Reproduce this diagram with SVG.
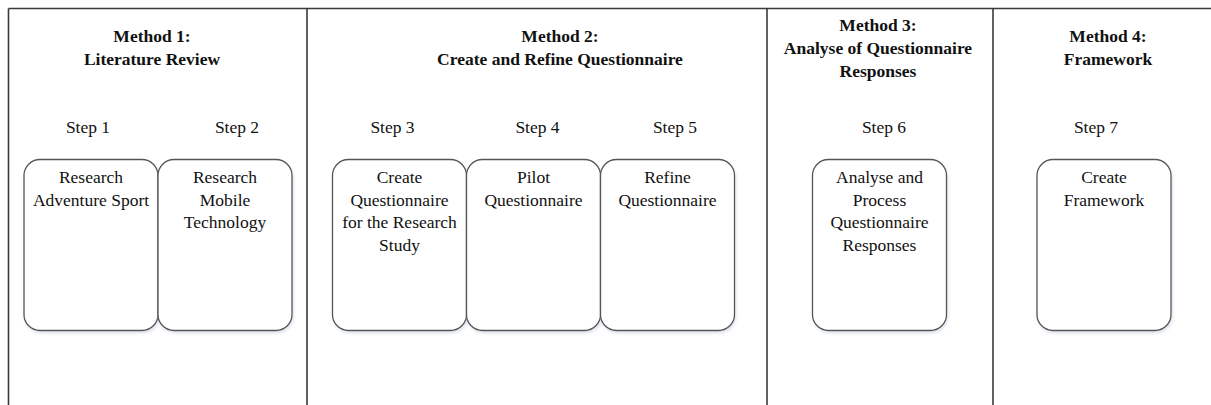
<svg xmlns="http://www.w3.org/2000/svg" width="1211" height="405" viewBox="0 0 1211 405">
<defs>
<filter id="sh" x="-10%" y="-10%" width="130%" height="130%">
<feDropShadow dx="1" dy="2" stdDeviation="1.5" flood-color="#9aa8c8" flood-opacity="0.35"/>
</filter>
<style>
.frame{fill:none;stroke:#3a3a3a;stroke-width:1.6}
.box{fill:#fff;stroke:#555;stroke-width:1.3;filter:url(#sh)}
text{font-family:"Liberation Serif","Times New Roman",serif;font-size:17.5px;fill:#111;text-anchor:middle}
.h{font-weight:bold}
</style>
</defs>
<rect width="1211" height="405" fill="#fff"/>
<g id="frame">
<line class="frame" x1="8.5" y1="8.5" x2="1211" y2="8.5" stroke="#555"/>
<line class="frame" x1="8.5" y1="8.5" x2="8.5" y2="405"/>
<line class="frame" x1="307" y1="8.5" x2="307" y2="405"/>
<line class="frame" x1="767" y1="8.5" x2="767" y2="405"/>
<line class="frame" x1="993" y1="8.5" x2="993" y2="405"/>
</g>
<g id="method1">
<text class="h" x="152" y="42">Method 1:</text>
<text class="h" x="152" y="65">Literature Review</text>
<text x="88" y="133">Step 1</text>
<text x="237" y="133">Step 2</text>
</g>
<g id="method2">
<text class="h" x="560" y="42">Method 2:</text>
<text class="h" x="560" y="65">Create and Refine Questionnaire</text>
<text x="392.5" y="133">Step 3</text>
<text x="537.5" y="133">Step 4</text>
<text x="675" y="133">Step 5</text>
</g>
<g id="method3">
<text class="h" x="878" y="31">Method 3:</text>
<text class="h" x="878" y="54">Analyse of Questionnaire</text>
<text class="h" x="878" y="77">Responses</text>
<text x="884" y="133">Step 6</text>
</g>
<g id="method4">
<text class="h" x="1108" y="42">Method 4:</text>
<text class="h" x="1108" y="65">Framework</text>
<text x="1096" y="133">Step 7</text>
</g>
<g id="step1">
<rect class="box" x="24" y="159.5" width="134" height="171" rx="16"/>
<text x="91" y="183">Research</text>
<text x="91" y="205.5">Adventure Sport</text>
</g>
<g id="step2">
<rect class="box" x="158" y="159.5" width="134" height="171" rx="16"/>
<text x="225" y="183">Research</text>
<text x="225" y="205.5">Mobile</text>
<text x="225" y="228">Technology</text>
</g>
<g id="step3">
<rect class="box" x="332.5" y="159.5" width="134" height="171" rx="16"/>
<text x="399.5" y="183">Create</text>
<text x="399.5" y="205.5">Questionnaire</text>
<text x="399.5" y="228">for the Research</text>
<text x="399.5" y="251">Study</text>
</g>
<g id="step4">
<rect class="box" x="466.5" y="159.5" width="134" height="171" rx="16"/>
<text x="533.5" y="183">Pilot</text>
<text x="533.5" y="205.5">Questionnaire</text>
</g>
<g id="step5">
<rect class="box" x="600.5" y="159.5" width="134" height="171" rx="16"/>
<text x="667.5" y="183">Refine</text>
<text x="667.5" y="205.5">Questionnaire</text>
</g>
<g id="step6">
<rect class="box" x="812.5" y="159.5" width="134" height="171" rx="16"/>
<text x="879.5" y="183">Analyse and</text>
<text x="879.5" y="205.5">Process</text>
<text x="879.5" y="228">Questionnaire</text>
<text x="879.5" y="251">Responses</text>
</g>
<g id="step7">
<rect class="box" x="1037" y="159.5" width="134" height="171" rx="16"/>
<text x="1104" y="183">Create</text>
<text x="1104" y="205.5">Framework</text>
</g>
<g id="connectors"></g>
</svg>
